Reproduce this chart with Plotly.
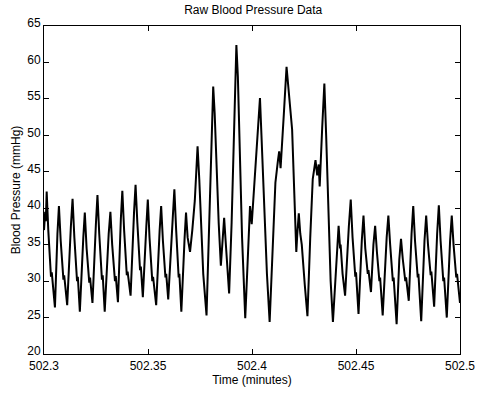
import plotly.graph_objects as go

# Time offsets after 502.3 min, in thousandths of a minute
time_offset_mmin = [
    0.00, 0.57, 0.86, 1.29, 2.06, 2.87, 3.35, 3.73, 5.26, 6.46,
    7.18, 8.04, 8.85, 9.33, 9.71, 11.15, 12.92, 13.73, 14.59, 15.41,
    15.89, 16.27, 17.23, 18.90, 19.62, 20.48, 21.29, 21.77, 22.15, 23.30,
    24.98, 25.70, 26.56, 27.37, 27.85, 28.23, 29.19, 31.10, 31.92, 32.78,
    33.64, 34.12, 34.50, 35.55, 36.94, 37.66, 38.52, 39.33, 39.81, 40.19,
    41.63, 43.30, 44.02, 44.88, 45.70, 46.18, 46.56, 47.52, 49.19, 49.91,
    50.72, 51.58, 52.06, 52.44, 53.93, 55.60, 56.32, 57.18, 57.99, 58.38,
    58.76, 59.72, 61.87, 62.68, 63.54, 64.36, 64.74, 65.08, 66.03, 67.61,
    68.28, 69.05, 70.20, 71.30, 72.49, 73.21, 73.83, 74.65, 75.60, 76.56,
    78.14, 79.67, 80.63, 81.35, 82.06, 82.78, 83.98, 85.03, 85.65, 86.61,
    87.09, 88.04, 89.00, 90.20, 91.39, 92.49, 93.21, 94.03, 95.22, 96.75,
    97.85, 99.05, 99.86, 100.72, 101.78, 102.88, 103.83, 104.55, 105.75, 107.18,
    108.48, 109.81, 111.25, 112.45, 113.07, 113.74, 114.51, 115.32, 116.61, 117.71,
    119.29, 120.34, 121.30, 121.78, 122.50, 123.21, 123.93, 125.37, 126.66, 128.00,
    129.20, 130.53, 131.35, 132.07, 132.54, 133.74, 134.79, 135.65, 136.85, 137.81,
    138.91, 140.44, 141.64, 142.35, 142.59, 143.55, 144.75, 146.56, 147.47, 148.34,
    149.20, 149.67, 150.01, 151.21, 152.78, 153.60, 154.46, 155.18, 155.66, 155.99,
    157.19, 158.38, 159.20, 160.06, 160.78, 161.25, 161.59, 162.83, 164.75, 165.56,
    166.42, 167.24, 167.71, 168.10, 169.53, 170.82, 171.64, 172.50, 173.22, 173.70,
    174.08, 175.37, 176.71, 177.52, 178.38, 179.20, 179.68, 180.01, 181.35, 182.93,
    183.74, 184.61, 185.42, 185.90, 186.23, 187.57, 189.01, 189.82, 190.68, 191.50,
    191.97, 192.36, 193.65, 195.23, 196.04, 196.90, 197.72, 198.20, 198.58, 200.00,
]

pressure_mmhg = [
    37.0, 39.5, 38.2, 42.3, 37.0, 32.0, 30.6, 31.2, 26.4, 36.5,
    40.3, 35.5, 31.5, 30.2, 30.8, 26.7, 37.5, 41.3, 36.0, 31.5,
    30.0, 30.6, 25.8, 36.0, 39.4, 34.5, 31.0, 29.8, 30.5, 27.0,
    38.0, 41.8, 36.5, 31.5, 30.2, 30.8, 25.8, 36.5, 39.5, 35.0,
    31.5, 30.0, 30.7, 27.1, 38.5, 42.4, 37.0, 32.0, 30.8, 31.3,
    28.0, 39.5, 43.2, 38.0, 33.0, 31.5, 32.0, 27.8, 37.5, 41.2,
    36.0, 31.5, 30.0, 30.6, 26.7, 37.0, 40.3, 35.5, 31.5, 30.5,
    31.0, 27.5, 38.5, 42.6, 37.0, 32.0, 30.5, 31.0, 25.8, 36.0,
    39.4, 36.0, 34.0, 37.0, 41.0, 45.0, 48.5, 44.0, 37.0, 31.0,
    25.3, 40.0, 50.0, 56.7, 53.0, 47.0, 38.0, 32.1, 34.5, 38.7,
    36.5, 31.5, 28.3, 38.0, 52.0, 62.4, 58.0, 50.0, 36.0, 24.9,
    33.0, 40.3, 37.8, 41.5, 45.0, 50.0, 55.1, 50.0, 40.0, 31.0,
    24.4, 34.0, 43.5, 46.5, 47.8, 45.5, 48.7, 53.0, 59.4, 55.5,
    50.8, 42.0, 34.0, 36.5, 39.3, 36.5, 35.0, 29.5, 25.2, 36.0,
    44.0, 46.6, 44.5, 46.0, 43.0, 51.0, 57.1, 50.0, 38.0, 30.0,
    24.4, 32.0, 37.6, 34.5, 35.0, 31.0, 28.0, 37.5, 41.2, 36.0,
    32.0, 30.6, 31.2, 25.5, 35.5, 39.0, 34.5, 32.0, 31.0, 31.5,
    28.5, 35.0, 37.6, 34.0, 31.0, 30.0, 30.5, 25.3, 36.0, 39.0,
    35.0, 31.5, 30.0, 30.5, 24.1, 33.0, 35.8, 33.0, 31.0, 30.0,
    30.5, 27.3, 36.5, 40.3, 35.5, 31.5, 30.5, 31.0, 24.5, 35.5,
    39.0, 35.0, 32.0, 30.8, 31.3, 26.5, 36.5, 40.4, 35.5, 31.5,
    30.0, 30.5, 25.0, 35.5, 39.0, 35.0, 31.5, 30.5, 31.0, 27.0,
]

start_minute = 502.3
x_ticks = [502.3, 502.35, 502.4, 502.45, 502.5]
x_tick_labels = ["502.3", "502.35", "502.4", "502.45", "502.5"]
y_ticks = [20, 25, 30, 35, 40, 45, 50, 55, 60, 65]

times = [start_minute + t / 1000.0 for t in time_offset_mmin]

font_family = "Liberation Sans, Arial, Helvetica, sans-serif"

fig = go.Figure()
fig.add_trace(go.Scatter(
    x=times, y=pressure_mmhg, mode="lines",
    line=dict(color="black", width=2),
    showlegend=False,
))

axis_common = dict(
    showline=True, linecolor="black", linewidth=1, mirror="allticks",
    ticks="inside", ticklen=5, tickcolor="black", showgrid=False,
    zeroline=False, tickfont=dict(size=12, color="black", family=font_family),
)

fig.update_layout(
    width=487, height=395,
    margin=dict(l=44, r=25, t=26, b=40),
    paper_bgcolor="white", plot_bgcolor="white",
    font=dict(family=font_family, color="black", size=12),
    title=dict(text="Raw Blood Pressure Data", x=0.52, xanchor="center",
               y=0.975, yanchor="middle", font=dict(size=12)),
    xaxis=dict(range=[502.3, 502.5], tickvals=x_ticks, ticktext=x_tick_labels,
               ticklabelstandoff=1,
               title=dict(text="Time (minutes)", standoff=1, font=dict(size=12)),
               **axis_common),
    yaxis=dict(range=[20, 65], tickvals=y_ticks, ticklabelshift=-3,
               title=dict(text="Blood Pressure (mmHg)", standoff=4, font=dict(size=12)),
               **axis_common),
)

fig.write_html("out.html")
